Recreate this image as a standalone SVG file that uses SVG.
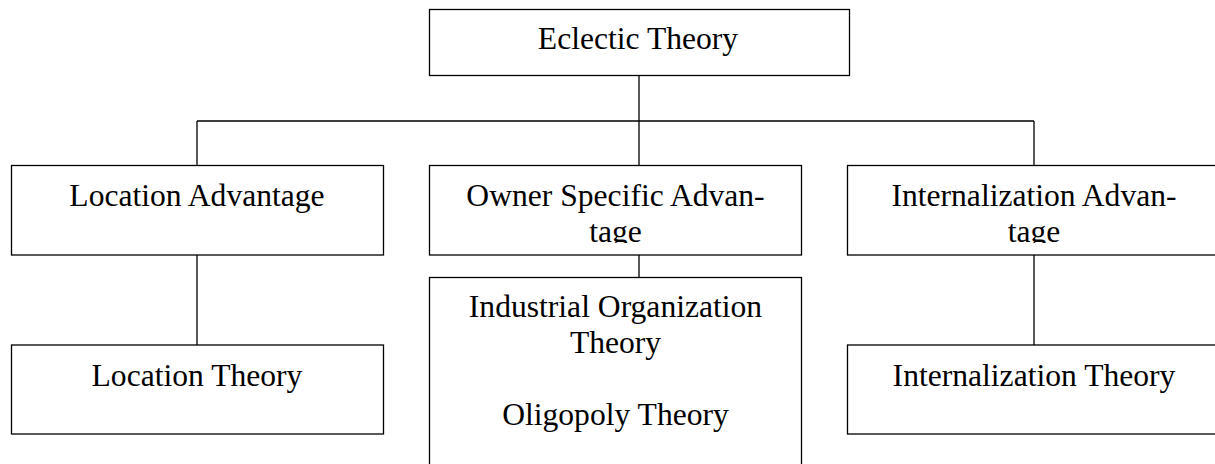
<svg xmlns="http://www.w3.org/2000/svg" width="1215" height="464" viewBox="0 0 1215 464">
<style>
.box{fill:#fff;stroke:#000;stroke-width:1.3}
.t{font-family:"Liberation Serif","Times New Roman",serif;font-size:31.6px;fill:#000;text-anchor:middle}
.c{stroke:#000;stroke-width:1.3;fill:none}
</style>
<defs>
<clipPath id="clipMid"><rect x="429" y="165" width="373" height="78"/></clipPath>
<clipPath id="clipRight"><rect x="847" y="165" width="373" height="78"/></clipPath>
</defs>
<rect width="1215" height="464" fill="#fff"/>
<g id="connectors">
<path class="c" d="M639 75.5V121M197 121H1034M197 121V165.5M639 121V165.5M1034 121V165.5M197 255V345M639 255V277.5M1034 255V345"/>
</g>
<g id="eclectic">
<rect class="box" x="429.5" y="9.5" width="420" height="66"/>
<text class="t" x="638" y="49">Eclectic Theory</text>
</g>
<g id="location-advantage">
<rect class="box" x="11.5" y="165.5" width="372" height="89.5"/>
<text class="t" x="197" y="205.7">Location Advantage</text>
</g>
<g id="owner-advantage">
<rect class="box" x="429.5" y="165.5" width="372" height="89.5"/>
<g clip-path="url(#clipMid)">
<text class="t" x="615.5" y="205.7">Owner Specific Advan-</text>
<text class="t" x="615.5" y="241.7">tage</text>
</g>
</g>
<g id="internalization-advantage">
<rect class="box" x="847.5" y="165.5" width="372" height="89.5"/>
<g clip-path="url(#clipRight)">
<text class="t" x="1034" y="205.7">Internalization Advan-</text>
<text class="t" x="1034" y="241.7">tage</text>
</g>
</g>
<g id="location-theory">
<rect class="box" x="11.5" y="345" width="372" height="89"/>
<text class="t" x="197" y="386">Location Theory</text>
</g>
<g id="io-theory">
<rect class="box" x="429.5" y="277.5" width="372" height="200"/>
<text class="t" x="615.5" y="317.3">Industrial Organization</text>
<text class="t" x="615.5" y="353.3">Theory</text>
<text class="t" x="615.5" y="425.3">Oligopoly Theory</text>
</g>
<g id="internalization-theory">
<rect class="box" x="847.5" y="345" width="372" height="89"/>
<text class="t" x="1034" y="386">Internalization Theory</text>
</g>
</svg>
